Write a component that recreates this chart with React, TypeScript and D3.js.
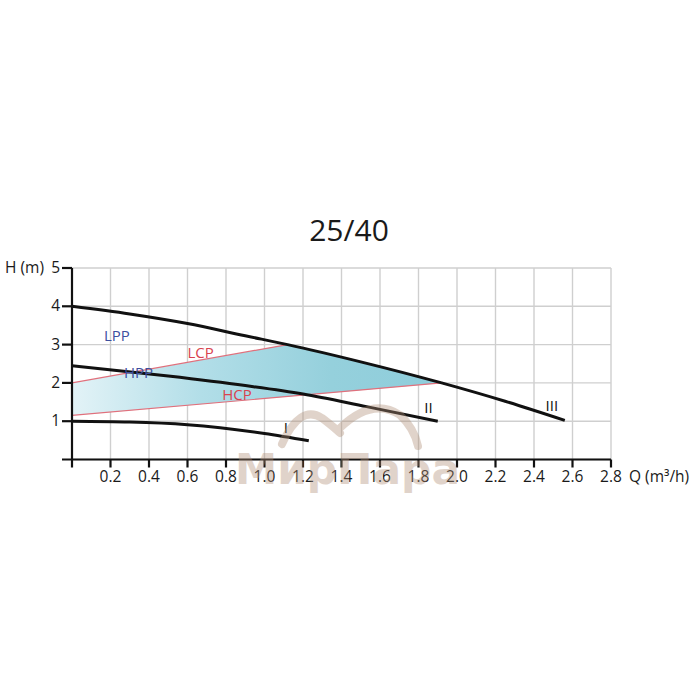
import React from "react";
import * as d3 from "d3";

const title = "25/40";
const qTicks = [0.2, 0.4, 0.6, 0.8, 1.0, 1.2, 1.4, 1.6, 1.8, 2.0, 2.2, 2.4, 2.6, 2.8];
const qGrid = [0, 0.2, 0.4, 0.6, 0.8, 1.0, 1.2, 1.4, 1.6, 1.8, 2.0, 2.2, 2.4, 2.6, 2.8];
const hTicks = [1, 2, 3, 4, 5];
const hGrid = [0, 1, 2, 3, 4, 5];

// pump curves [Q, H]
const curveIII: [number, number][] = [
  [0, 4.0], [0.3, 3.8], [0.6, 3.55], [0.9, 3.23], [1.12, 3.0], [1.5, 2.55], [1.92, 2.0], [2.25, 1.52], [2.56, 1.02],
];
const curveII: [number, number][] = [
  [0, 2.45], [0.5, 2.18], [0.9, 1.93], [1.2, 1.71], [1.53, 1.38], [1.9, 1.0],
];
const curveI: [number, number][] = [
  [0, 1.0], [0.3, 0.98], [0.6, 0.91], [1.0, 0.68], [1.23, 0.49],
];
// control lines
const lcpLine: [number, number][] = [[0, 2.0], [1.12, 3.0]];
const hcpLine: [number, number][] = [[0, 1.15], [1.92, 2.0]];

const curveLabels = [
  { text: "I", q: 1.1, h: 0.69 },
  { text: "II", q: 1.83, h: 1.21 },
  { text: "III", q: 2.46, h: 1.27 },
];
const modeLabels = [
  { text: "LPP", q: 0.166, h: 3.09, color: "#3d4f9e" },
  { text: "HPP", q: 0.27, h: 2.13, color: "#3d4f9e" },
  { text: "LCP", q: 0.6, h: 2.65, color: "#d9434f" },
  { text: "HCP", q: 0.78, h: 1.55, color: "#d9434f" },
];

const W = 700;
const H = 700;
const x = d3.scaleLinear().domain([0, 2.8]).range([72, 611]);
const y = d3.scaleLinear().domain([0, 5]).range([459.5, 268]);

const font = "'Open Sans', 'DejaVu Sans', sans-serif";

export default function App() {
  const line = d3
    .line<[number, number]>()
    .x((d) => x(d[0]))
    .y((d) => y(d[1]))
    .curve(d3.curveMonotoneX);
  const straight = d3
    .line<[number, number]>()
    .x((d) => x(d[0]))
    .y((d) => y(d[1]));
  const underIII = d3
    .area<[number, number]>()
    .x((d) => x(d[0]))
    .y0(y(0))
    .y1((d) => y(d[1]))
    .curve(d3.curveMonotoneX);

  // zone between LCP/HCP, clipped under curve III
  const hcpSlope = (hcpLine[1][1] - hcpLine[0][1]) / (hcpLine[1][0] - hcpLine[0][0]);
  const qEnd = 2.3;
  const zone: [number, number][] = [
    lcpLine[0],
    lcpLine[1],
    [qEnd, lcpLine[1][1]],
    [qEnd, hcpLine[0][1] + hcpSlope * qEnd],
    hcpLine[0],
  ];

  return (
    <div style={{ position: "absolute", left: 0, top: 0 }}>
      <svg width={W} height={H} style={{ display: "block", background: "#fff" }}>
        <defs>
          <linearGradient id="zoneGrad" gradientUnits="userSpaceOnUse" x1={x(0)} x2={x(1.92)} y1={0} y2={0}>
            <stop offset="0" stopColor="#e3f3f7" />
            <stop offset="0.35" stopColor="#b2dee8" />
            <stop offset="0.7" stopColor="#95d0dc" />
            <stop offset="1" stopColor="#8ecddb" />
          </linearGradient>
          <clipPath id="clipIII">
            <path d={underIII(curveIII) || ""} />
          </clipPath>
        </defs>

        {/* title */}
        <text x={349} y={241} textAnchor="middle" fontFamily={font} fontSize={30} fill="#1a1a1a">
          {title}
        </text>

        {/* grid */}
        <g stroke="#cfcfcf" strokeWidth={1.4}>
          {qGrid.map((q) => (
            <line key={"gx" + q} x1={x(q)} x2={x(q)} y1={y(5)} y2={y(0)} />
          ))}
          {hGrid.map((h) => (
            <line key={"gy" + h} x1={x(0)} x2={x(2.8)} y1={y(h)} y2={y(h)} />
          ))}
        </g>

        {/* shaded zone */}
        <path d={straight(zone) || ""} fill="url(#zoneGrad)" clipPath="url(#clipIII)" />
        <path d={straight(lcpLine) || ""} fill="none" stroke="#e0707c" strokeWidth={1.2} />
        <path d={straight(hcpLine) || ""} fill="none" stroke="#e0707c" strokeWidth={1.2} />

        {/* curves */}
        <g fill="none" stroke="#111" strokeWidth={3} strokeLinecap="butt">
          <path d={line(curveIII) || ""} />
          <path d={line(curveII) || ""} />
          <path d={line(curveI) || ""} />
        </g>

        {/* mode labels */}
        {modeLabels.map((l) => (
          <text key={l.text} x={x(l.q)} y={y(l.h)} fontFamily={font} fontSize={15} fill={l.color}>
            {l.text}
          </text>
        ))}
        {curveLabels.map((l) => (
          <text key={l.text} x={x(l.q)} y={y(l.h)} fontFamily={font} fontSize={15} fill="#111">
            {l.text}
          </text>
        ))}

        {/* axes */}
        <g stroke="#111" strokeWidth={2.2}>
          <line x1={x(0)} x2={x(0)} y1={y(5)} y2={y(0) + 8} />
          <line x1={62} x2={x(2.8)} y1={y(0)} y2={y(0)} />
          {hTicks.map((h) => (
            <line key={"ty" + h} x1={62} x2={x(0)} y1={y(h)} y2={y(h)} />
          ))}
          {qTicks.map((q) => (
            <line key={"tx" + q} x1={x(q)} x2={x(q)} y1={y(0)} y2={y(0) + 8} />
          ))}
        </g>
        <g fontFamily={font} fontSize={15.5} fill="#1a1a1a">
          {hTicks.map((h) => (
            <text key={"ly" + h} x={60} y={y(h) + 5} textAnchor="end">
              {h}
            </text>
          ))}
          <text x={5} y={y(5) + 5}>H (m)</text>
          {qTicks.map((q) => (
            <text key={"lx" + q} x={x(q)} y={482} textAnchor="middle">
              {q.toFixed(1)}
            </text>
          ))}
          <text x={629} y={482}>Q (m³/h)</text>
        </g>

        {/* watermark */}
        <g opacity={0.38} fill="none" stroke="#b08e76" strokeWidth={8} strokeLinecap="round">
          <path d="M282,444 Q300,404 322,418 Q335,428 340,433" />
          <path d="M340,428 Q372,397 400,415 Q414,428 418,446" />
        </g>
        <text
          x={235}
          y={484}
          textLength={225}
          lengthAdjust="spacingAndGlyphs"
          fontFamily="'DejaVu Sans', sans-serif"
          fontWeight="bold"
          fontSize={42}
          fill="#b08e76"
          opacity={0.38}
        >
          МирПара
        </text>
      </svg>
    </div>
  );
}
